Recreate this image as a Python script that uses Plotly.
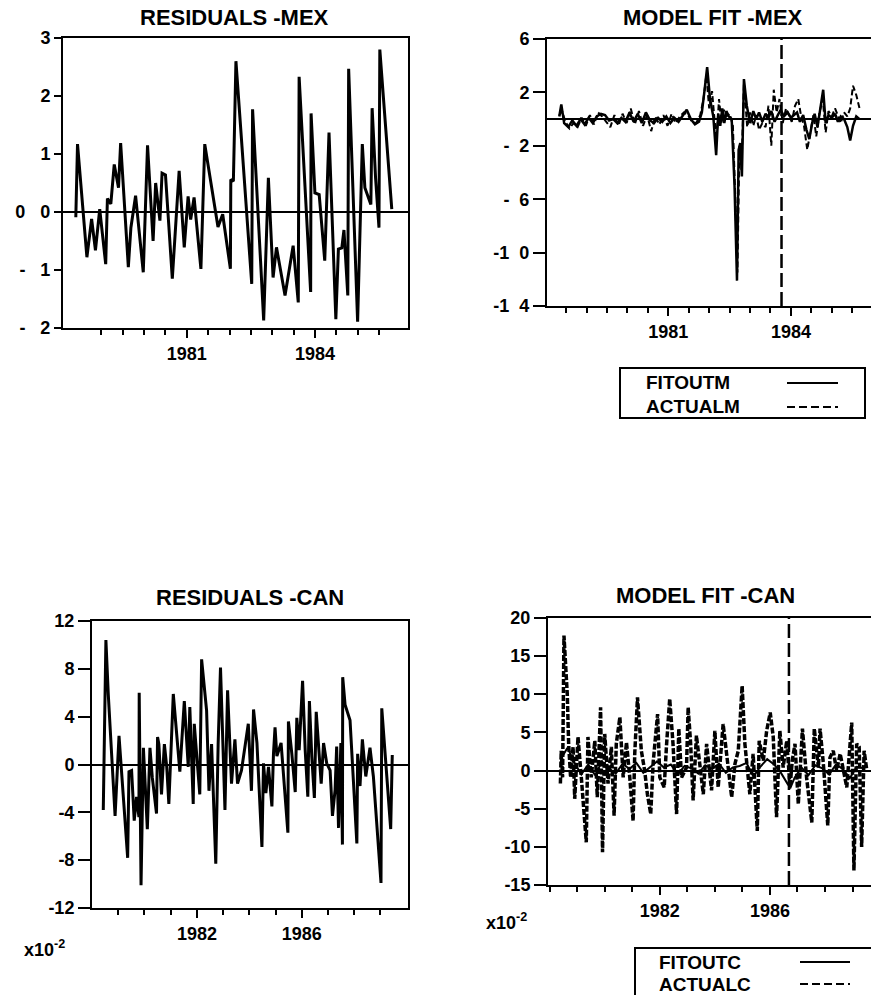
import plotly.graph_objects as go

W, H = 871, 995

# ---------------- DATA ----------------
# Residuals - MEX
res_mex_x = [1978.40, 1978.44, 1978.66, 1978.77, 1978.86, 1978.96, 1979.10, 1979.14, 1979.22, 1979.30,
             1979.40, 1979.45, 1979.63, 1979.69, 1979.80, 1979.84, 1979.98, 1980.08, 1980.21, 1980.27,
             1980.37, 1980.42, 1980.50, 1980.66, 1980.82, 1980.94, 1981.03, 1981.09, 1981.17, 1981.33,
             1981.42, 1981.73, 1981.84, 1982.02, 1982.03, 1982.09, 1982.15, 1982.52, 1982.54, 1982.80,
             1982.91, 1983.02, 1983.10, 1983.30, 1983.49, 1983.61, 1983.63, 1983.90, 1983.91, 1984.00,
             1984.10, 1984.23, 1984.33, 1984.49, 1984.55, 1984.63, 1984.68, 1984.77, 1984.79, 1985.00,
             1985.11, 1985.17, 1985.31, 1985.34, 1985.42, 1985.50, 1985.52, 1985.80]
res_mex_y = [-0.09, 1.17, -0.78, -0.12, -0.66, 0.05, -0.90, 0.23, 0.14, 0.82,
             0.42, 1.19, -0.95, -0.27, 0.28, -0.04, -1.04, 1.15, -0.50, 0.50,
             -0.15, 0.67, 0.64, -1.15, 0.71, -0.61, 0.27, -0.13, 0.25, -0.98,
             1.17, -0.26, -0.04, -0.98, 0.56, 0.53, 2.60, -1.24, 1.77, -1.87,
             0.59, -1.13, -0.61, -1.44, -0.58, -1.56, 2.33, -1.38, 1.70, 0.33,
             0.30, -0.84, 1.37, -1.85, -0.64, -0.62, -0.31, -1.44, 2.47, -1.89,
             1.17, 0.42, 0.13, 1.79, 0.59, -0.27, 2.80, 0.05]

# Model fit - MEX
fit_mex_x = [1978.33, 1978.38, 1978.45, 1978.55, 1978.65, 1978.75, 1978.85, 1978.95, 1979.05, 1979.15,
             1979.25, 1979.35, 1979.45, 1979.55, 1979.65, 1979.75, 1979.85, 1979.95, 1980.05, 1980.15,
             1980.25, 1980.35, 1980.45, 1980.55, 1980.65, 1980.75, 1980.85, 1980.95, 1981.05, 1981.15,
             1981.25, 1981.35, 1981.45, 1981.55, 1981.65, 1981.75, 1981.82, 1981.88, 1981.95, 1982.02,
             1982.10, 1982.17, 1982.22, 1982.27, 1982.32, 1982.37, 1982.42, 1982.48, 1982.55, 1982.62,
             1982.68, 1982.72, 1982.76, 1982.80, 1982.85, 1982.92, 1983.00, 1983.08, 1983.15, 1983.22,
             1983.30, 1983.38, 1983.45, 1983.52, 1983.60, 1983.68, 1983.75, 1983.83, 1983.92, 1984.00,
             1984.08, 1984.15, 1984.22, 1984.30, 1984.38, 1984.45, 1984.52, 1984.58, 1984.65, 1984.72,
             1984.79, 1984.85, 1984.92, 1985.00, 1985.08, 1985.15, 1985.22, 1985.30, 1985.38, 1985.45,
             1985.52, 1985.60, 1985.68]
fit_mex_y = [0.2, 1.1, -0.3, -0.6, -0.1, -0.5, 0.0, -0.4, 0.1, -0.3,
             0.2, 0.4, 0.3, -0.1, 0.0, -0.3, 0.1, -0.2, 0.5, -0.2,
             0.4, -0.3, 0.5, -0.1, -0.3, 0.1, -0.2, 0.2, -0.3, 0.1,
             -0.2, 0.3, 0.7, 0.0, -0.4, -0.2, 0.5, 2.0, 3.9, 1.5,
             0.2, -2.7, 0.4, -0.5, 0.8, -0.3, 0.6, 0.2, 0.0, -5.0,
             -12.1, -2.3, -1.8, -4.3, 3.0, 1.0, -0.3, 0.6, 0.0, 0.5,
             -0.2, 0.4, 0.1, 0.6, -0.2, 0.3, 0.7, 0.2, 0.5, 0.1,
             0.3, 0.5, -0.2, 0.3, -0.8, -1.5, -0.3, 0.4, -0.6, 0.7,
             2.2, -0.3, 0.3, 0.1, 0.4, -0.2, 0.2, 0.0, -0.6, -1.6,
             -0.5, 0.2, 0.0]

act_mex_x = [1978.33, 1978.40, 1978.48, 1978.58, 1978.68, 1978.78, 1978.88, 1978.98, 1979.08, 1979.18,
             1979.28, 1979.38, 1979.48, 1979.58, 1979.68, 1979.78, 1979.88, 1979.98, 1980.08, 1980.18,
             1980.28, 1980.38, 1980.48, 1980.58, 1980.68, 1980.78, 1980.88, 1980.98, 1981.08, 1981.18,
             1981.28, 1981.38, 1981.48, 1981.58, 1981.68, 1981.78, 1981.86, 1981.93, 1982.00, 1982.07,
             1982.12, 1982.18, 1982.24, 1982.30, 1982.36, 1982.42, 1982.50, 1982.58, 1982.64, 1982.69,
             1982.74, 1982.79, 1982.85, 1982.93, 1983.00, 1983.08, 1983.15, 1983.22, 1983.30, 1983.38,
             1983.45, 1983.52, 1983.58, 1983.65, 1983.72, 1983.80, 1983.88, 1983.95, 1984.02, 1984.10,
             1984.18, 1984.25, 1984.32, 1984.40, 1984.47, 1984.55, 1984.62, 1984.70, 1984.78, 1984.85,
             1984.92, 1985.00, 1985.08, 1985.15, 1985.22, 1985.30, 1985.38, 1985.45, 1985.52, 1985.60,
             1985.68]
act_mex_y = [0.3, 0.6, -0.2, -0.7, -0.3, -0.6, 0.1, -0.5, 0.3, -0.4,
             0.5, 0.2, -0.2, -0.6, 0.3, -0.5, 0.4, -0.3, 0.8, -0.4,
             0.6, -0.5, 0.3, -0.9, 0.2, -0.4, 0.3, -0.5, 0.4, -0.3,
             0.2, 0.5, 0.3, -0.2, -0.3, 0.3, 1.5, 3.3, 0.8, 2.1,
             0.3, -1.5, 1.5, -0.3, 0.7, 0.2, 0.4, -0.5, -6.0, -11.5,
             -2.0, -3.8, 2.7, -0.6, 0.5, -0.5, 0.3, -0.8, -0.3, -0.6,
             1.0, -2.0, 2.2, 0.5, 1.5, -0.3, 0.8, 0.3, -0.2, 1.0,
             1.5, 0.2, -0.5, -2.3, -1.2, 0.3, -1.3, 0.5, 1.5, -1.0,
             0.6, 0.2, 0.8, 0.3, -0.3, 0.5, 0.2, 0.8, 2.5, 1.8,
             0.8]

# Residuals - CAN (x10^-2)
res_can_x = [1978.43, 1978.53, 1978.62, 1978.88, 1979.03, 1979.13, 1979.36, 1979.41, 1979.51, 1979.61,
             1979.70, 1979.79, 1979.80, 1979.87, 1979.96, 1980.11, 1980.21, 1980.30, 1980.46, 1980.50,
             1980.55, 1980.65, 1980.76, 1980.85, 1980.93, 1981.10, 1981.35, 1981.52, 1981.67, 1981.73,
             1981.86, 1981.90, 1982.11, 1982.18, 1982.37, 1982.46, 1982.56, 1982.72, 1982.81, 1982.90,
             1983.07, 1983.17, 1983.32, 1983.45, 1983.55, 1983.70, 1983.87, 1983.96, 1984.08, 1984.16,
             1984.29, 1984.48, 1984.54, 1984.63, 1984.73, 1984.86, 1984.92, 1984.98, 1985.05, 1985.21,
             1985.47, 1985.49, 1985.62, 1985.75, 1985.81, 1985.90, 1986.03, 1986.13, 1986.23, 1986.29,
             1986.38, 1986.48, 1986.55, 1986.66, 1986.74, 1986.83, 1986.95, 1987.08, 1987.17, 1987.27,
             1987.33, 1987.40, 1987.49, 1987.55, 1987.56, 1987.65, 1987.84, 1988.10, 1988.13, 1988.22,
             1988.31, 1988.44, 1988.60, 1988.73, 1989.02, 1989.05, 1989.24, 1989.39, 1989.45]
res_can_y = [-3.8, 10.4, 5.9, -4.3, 2.4, -0.8, -7.8, -0.6, -0.5, -4.7,
             -2.7, -4.4, 6.0, -10.1, 1.4, -5.4, 1.4, -1.1, -4.1, 2.3,
             1.7, -2.5, 1.7, -0.2, -3.3, 5.9, -0.6, 5.3, -0.2, 4.8,
             -3.3, 3.4, -2.5, 8.8, 4.5, -2.2, 1.7, -8.3, 1.7, 8.1,
             -3.8, 6.2, -1.6, 2.1, -1.6, -0.5, 2.3, 3.4, -2.2, 4.6,
             1.8, -6.9, 0.1, -2.4, -0.2, -3.5, 0.9, 3.1, 0.7, 1.8,
             -5.7, 3.6, 0.9, -2.3, 3.9, 1.2, 7.0, 1.2, -2.7, 5.3,
             0.7, -2.8, 4.4, 1.2, -1.6, 1.8, 0.1, -0.5, -4.3, -2.1,
             1.5, -5.3, 1.8, -6.7, 7.3, 5.0, 3.7, -6.6, 0.9, -1.8,
             2.1, -1.0, 1.4, -1.0, -9.9, 4.7, -1.0, -5.4, 0.8]

# Model fit - CAN (x10^-2)
fit_can_x = [1978.40, 1978.65, 1978.90, 1979.15, 1979.40, 1979.65, 1979.90, 1980.15, 1980.40, 1980.65,
             1980.90, 1981.15, 1981.40, 1981.65, 1981.90, 1982.15, 1982.40, 1982.65, 1982.90, 1983.15,
             1983.40, 1983.65, 1983.90, 1984.15, 1984.40, 1984.65, 1984.90, 1985.15, 1985.40, 1985.65,
             1985.90, 1986.15, 1986.40, 1986.65, 1986.75, 1986.90, 1987.15, 1987.40, 1987.65, 1987.90,
             1988.15, 1988.40, 1988.65, 1988.90, 1989.15, 1989.40]
fit_can_y = [1.5, 3.0, 1.0, -0.5, 0.8, -0.6, 1.2, 0.3, -0.4, 0.9,
             0.2, 1.0, -0.3, 0.5, 1.2, 0.4, 0.8, -0.5, 0.6, 0.3,
             -0.4, 0.7, 0.2, 0.9, -0.3, 0.4, 0.6, 1.0, -0.8, 0.5,
             1.5, 0.8, -0.3, -1.8, -2.2, -0.9, 0.4, -0.6, 0.7, 0.3,
             -0.5, 0.8, 0.2, -1.0, 0.5, 0.3]

act_can_x = [1978.39, 1978.42, 1978.47, 1978.52, 1978.64, 1978.69, 1978.76, 1978.85, 1978.91, 1979.03,
             1979.15, 1979.33, 1979.39, 1979.51, 1979.64, 1979.73, 1979.85, 1979.92, 1980.00, 1980.12,
             1980.24, 1980.34, 1980.42, 1980.55, 1980.67, 1980.79, 1980.91, 1981.03, 1981.09, 1981.19,
             1981.33, 1981.45, 1981.55, 1981.67, 1981.76, 1981.92, 1982.00, 1982.16, 1982.24, 1982.36,
             1982.48, 1982.61, 1982.69, 1982.79, 1982.97, 1983.03, 1983.12, 1983.21, 1983.33, 1983.45,
             1983.58, 1983.70, 1983.88, 1984.00, 1984.12, 1984.30, 1984.42, 1984.61, 1984.73, 1984.85,
             1984.99, 1985.09, 1985.27, 1985.39, 1985.54, 1985.61, 1985.76, 1985.88, 1986.01, 1986.12,
             1986.24, 1986.36, 1986.48, 1986.61, 1986.73, 1986.81, 1986.91, 1987.03, 1987.18, 1987.33,
             1987.52, 1987.61, 1987.76, 1987.82, 1987.94, 1988.10, 1988.18, 1988.30, 1988.42, 1988.55,
             1988.67, 1988.79, 1988.97, 1989.05, 1989.15, 1989.24, 1989.33, 1989.42, 1989.52]
act_can_y = [-1.7, 2.6, -0.9, 17.7, 10.0, 3.5, -0.9, 3.1, -3.7, 4.4,
             -0.9, -9.4, 4.4, -0.9, 3.9, -3.5, 8.3, -10.7, 4.8, -1.7,
             3.1, -5.9, 3.5, 7.0, -0.9, 3.7, -0.9, -6.6, 2.2, 9.6,
             2.6, 0.0, -3.1, -5.7, 1.1, 7.4, -0.9, -2.2, 3.1, 9.4,
             3.5, -5.7, 5.5, -0.9, 0.4, 8.3, 3.5, -3.9, 4.6, 0.9,
             -3.1, 3.5, -2.6, 5.2, -2.2, 6.1, 2.6, -3.5, 0.9, 2.6,
             11.1, 3.5, -3.1, 2.2, -7.9, 3.9, 1.3, 5.2, 7.6, 4.4,
             -6.1, 5.2, 0.4, 3.9, -2.2, 1.3, 3.5, -4.4, 5.5, -0.9,
             -6.8, 5.5, 0.4, 5.5, 0.9, -7.2, 1.7, 2.6, 0.0, 2.2,
             0.0, -2.2, 6.3, -13.1, 3.5, 3.1, -10.0, 2.6, 0.0]

# forecast-start markers
split_mex = 1983.77
split_can = 1986.69

# tick labels
mex_res_tickvals = [3, 2, 1, 0, -1, -2]
mex_res_ticktext = ["3", "2", "1", "0\u00a0\u00a0\u00a00", "-\u00a0\u00a0\u00a01", "-\u00a0\u00a0\u00a02"]
mex_fit_tickvals = [6, 2, -2, -6, -10, -14]
mex_fit_ticktext = ["6", "2", "-\u00a0\u00a02", "-\u00a0\u00a06", "-1\u00a0\u00a00", "-1\u00a0\u00a04"]
can_res_tickvals = [12, 8, 4, 0, -4, -8, -12]
can_res_ticktext = ["12", "8", "4", "0", "-4", "-8", "-12"]
can_fit_tickvals = [20, 15, 10, 5, 0, -5, -10, -15]
can_fit_ticktext = ["20", "15", "10", "5", "0", "-5", "-10", "-15"]
mex_year_vals = [1981, 1984]
mex_year_text = ["1981", "1984"]
can_year_vals = [1982, 1986]
can_year_text = ["1982", "1986"]

# ---------------- FIGURE ----------------
FONT = "Liberation Sans, Arial, sans-serif"
BLACK = "#000000"


def px(v):
    return v / W


def py(v):
    return 1 - v / H


fig = go.Figure()
fig.add_trace(go.Scatter(x=res_mex_x, y=res_mex_y, mode="lines", xaxis="x", yaxis="y",
                         line=dict(color=BLACK, width=3), showlegend=False))
fig.add_trace(go.Scatter(x=fit_mex_x, y=fit_mex_y, mode="lines", xaxis="x2", yaxis="y2",
                         line=dict(color=BLACK, width=2.5), showlegend=False))
fig.add_trace(go.Scatter(x=act_mex_x, y=act_mex_y, mode="lines", xaxis="x2", yaxis="y2",
                         line=dict(color=BLACK, width=2, dash="6px,3px"), showlegend=False))
fig.add_trace(go.Scatter(x=res_can_x, y=res_can_y, mode="lines", xaxis="x3", yaxis="y3",
                         line=dict(color=BLACK, width=3), showlegend=False))
fig.add_trace(go.Scatter(x=fit_can_x, y=fit_can_y, mode="lines", xaxis="x4", yaxis="y4",
                         line=dict(color=BLACK, width=2), showlegend=False))
fig.add_trace(go.Scatter(x=act_can_x, y=act_can_y, mode="lines", xaxis="x4", yaxis="y4",
                         line=dict(color=BLACK, width=3.5, dash="6px,2px"), showlegend=False))

tickfont = dict(family=FONT, size=18, color=BLACK, weight="bold")


def xax(dom, anchor, rng, vals, text, minor_vals):
    return dict(domain=dom, anchor=anchor, range=rng, showline=True, linecolor=BLACK, linewidth=2,
                mirror=True, ticks="outside", ticklen=8, tickwidth=2, tickcolor=BLACK,
                tickvals=vals, ticktext=text, tickfont=tickfont, showgrid=False, zeroline=False,
                automargin=False,
                minor=dict(tickmode="array", tickvals=minor_vals, ticks="outside", ticklen=5,
                           tickwidth=2, tickcolor=BLACK, showgrid=False))


def yax(dom, anchor, rng, vals, text, ticklen, mirror):
    return dict(domain=dom, anchor=anchor, range=rng, showline=True, linecolor=BLACK, linewidth=2,
                mirror=mirror, ticks="outside", ticklen=ticklen, tickwidth=2, tickcolor=BLACK,
                tickvals=vals, ticktext=text, tickfont=tickfont, showgrid=False, automargin=False,
                zeroline=True, zerolinecolor=BLACK, zerolinewidth=2)


half_years = [1979 + 0.5 * i for i in range(14)]
half_years_fit = [1978.5 + 0.5 * i for i in range(16)]
years = [1979 + i for i in range(11)]
years_fit = [1978 + i for i in range(12)]

fig.update_layout(
    width=W, height=H, autosize=False,
    margin=dict(l=0, r=0, t=0, b=0, pad=0, autoexpand=False),
    paper_bgcolor="white", plot_bgcolor="white",
    showlegend=False,
    xaxis=xax([px(63), px(408)], "y", [1978.1, 1986.18], mex_year_vals, mex_year_text, half_years),
    yaxis=yax([py(328), py(38)], "x", [-2, 3], mex_res_tickvals, mex_res_ticktext, 7, True),
    xaxis2=xax([px(547), 1.0], "y2", [1978.03, 1985.96], mex_year_vals, mex_year_text, half_years_fit),
    yaxis2=yax([py(306), py(39)], "x2", [-14, 6], mex_fit_tickvals, mex_fit_ticktext, 12, False),
    xaxis3=xax([px(92), px(408)], "y3", [1978.0, 1990.05], can_year_vals, can_year_text, years),
    yaxis3=yax([py(908), py(621)], "x3", [-12, 12], can_res_tickvals, can_res_ticktext, 12, True),
    xaxis4=xax([px(548), 1.0], "y4", [1977.94, 1989.67], can_year_vals, can_year_text, years_fit),
    yaxis4=yax([py(885), py(618)], "x4", [-15, 20], can_fit_tickvals, can_fit_ticktext, 12, False),
)

shapes = [
    dict(type="line", xref="x2", yref="y2 domain", x0=split_mex, x1=split_mex, y0=0, y1=1,
         line=dict(color=BLACK, width=2.5, dash="14px,5px")),
    dict(type="line", xref="x4", yref="y4 domain", x0=split_can, x1=split_can, y0=0, y1=1,
         line=dict(color=BLACK, width=2.5, dash="14px,5px")),
    # legend boxes
    dict(type="rect", xref="paper", yref="paper", x0=px(620), x1=px(865), y0=py(418), y1=py(368),
         line=dict(color=BLACK, width=2), fillcolor="white"),
    dict(type="line", xref="paper", yref="paper", x0=px(787), x1=px(838), y0=py(383), y1=py(383),
         line=dict(color=BLACK, width=2)),
    dict(type="line", xref="paper", yref="paper", x0=px(787), x1=px(838), y0=py(407), y1=py(407),
         line=dict(color=BLACK, width=2, dash="8px,4px")),
    dict(type="rect", xref="paper", yref="paper", x0=px(635), x1=1.02, y0=-0.02, y1=py(948),
         line=dict(color=BLACK, width=2), fillcolor="white"),
    dict(type="line", xref="paper", yref="paper", x0=px(800), x1=px(850), y0=py(962), y1=py(962),
         line=dict(color=BLACK, width=2)),
    dict(type="line", xref="paper", yref="paper", x0=px(800), x1=px(850), y0=py(984), y1=py(984),
         line=dict(color=BLACK, width=2, dash="8px,4px")),
]
fig.update_layout(shapes=shapes)

titlefont = dict(family=FONT, size=22, color=BLACK, weight="bold")
legfont = dict(family=FONT, size=19, color=BLACK, weight="bold")
annos = [
    dict(text="RESIDUALS -MEX", x=px(235), y=py(17), xanchor="center", yanchor="middle", font=titlefont),
    dict(text="MODEL FIT -MEX", x=px(713), y=py(17), xanchor="center", yanchor="middle", font=titlefont),
    dict(text="RESIDUALS -CAN", x=px(250), y=py(597), xanchor="center", yanchor="middle", font=titlefont),
    dict(text="MODEL FIT -CAN", x=px(705), y=py(595), xanchor="center", yanchor="middle", font=titlefont),
    dict(text="x10<sup>-2</sup>", x=px(22), y=py(948), xanchor="left", yanchor="middle", font=tickfont),
    dict(text="x10<sup>-2</sup>", x=px(484), y=py(921), xanchor="left", yanchor="middle", font=tickfont),
    dict(text="FITOUTM", x=px(644), y=py(383), xanchor="left", yanchor="middle", font=legfont),
    dict(text="ACTUALM", x=px(644), y=py(407), xanchor="left", yanchor="middle", font=legfont),
    dict(text="FITOUTC", x=px(657), y=py(962), xanchor="left", yanchor="middle", font=legfont),
    dict(text="ACTUALC", x=px(657), y=py(984), xanchor="left", yanchor="middle", font=legfont),
]
for a in annos:
    a.update(xref="paper", yref="paper", showarrow=False)
fig.update_layout(annotations=annos)

fig.write_html("out.html", config={"responsive": False, "displayModeBar": False},
               post_script="document.body.style.margin='0';document.body.style.overflow='hidden';")
